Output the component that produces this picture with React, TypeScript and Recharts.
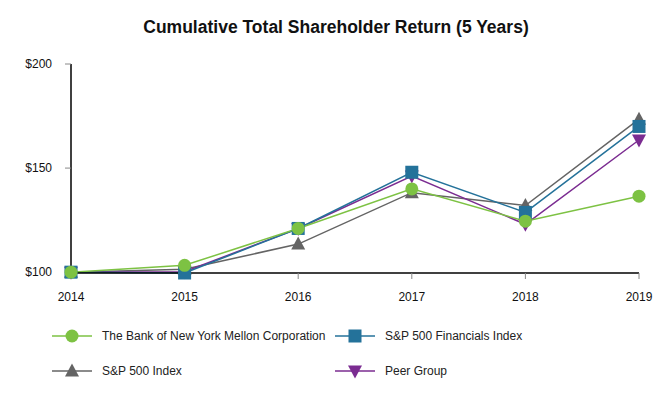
import React from 'react';
import { CartesianGrid, Line, LineChart, XAxis, YAxis } from 'recharts';

const years = [2014, 2015, 2016, 2017, 2018, 2019];
const bnyMellon = [100, 103.3, 121, 140, 124.5, 136.5];
const spFinancials = [100, 99.6, 121, 148, 128.7, 170];
const sp500 = [100, 101.4, 113.5, 138.2, 132, 173.5];
const peerGroup = [100, 100.2, 121, 146.2, 123, 163.5];
const yTicks = [100, 150, 200];

const data = years.map((year, i) => ({
  year,
  bny: bnyMellon[i],
  fin: spFinancials[i],
  sp: sp500[i],
  peer: peerGroup[i]
}));

const FONT = 'Arial, "Liberation Sans", Helvetica, sans-serif';

type Shape = 'circle' | 'square' | 'triangle' | 'down';

function Marker({ cx, cy, shape, color }: { cx: number; cy: number; shape: Shape; color: string }) {
  if (cx == null || cy == null) return null;
  if (shape === 'circle') return <circle cx={cx} cy={cy} r={6.5} fill={color} />;
  if (shape === 'square') return <rect x={cx - 6.5} y={cy - 6.5} width={13} height={13} fill={color} />;
  if (shape === 'triangle') return <polygon points={`${cx},${cy - 7.5} ${cx + 7},${cy + 5.5} ${cx - 7},${cy + 5.5}`} fill={color} />;
  return <polygon points={`${cx},${cy + 7.5} ${cx + 7},${cy - 5.5} ${cx - 7},${cy - 5.5}`} fill={color} />;
}

const series: { key: string; name: string; color: string; shape: Shape }[] = [
  { key: 'sp', name: 'S&P 500 Index', color: '#646464', shape: 'triangle' },
  { key: 'peer', name: 'Peer Group', color: '#7b2c91', shape: 'down' },
  { key: 'fin', name: 'S&P 500 Financials Index', color: '#24729a', shape: 'square' },
  { key: 'bny', name: 'The Bank of New York Mellon Corporation', color: '#7dc243', shape: 'circle' }
];

const legendOrder = ['bny', 'fin', 'sp', 'peer'];

function LegendItem({ s, x, y }: { s: (typeof series)[number]; x: number; y: number }) {
  return (
    <div style={{ position: 'absolute', left: x, top: y - 10, height: 20, display: 'flex', alignItems: 'center' }}>
      <svg width={40} height={20} style={{ display: 'block' }}>
        <line x1={0} y1={10} x2={40} y2={10} stroke={s.color} strokeWidth={1.5} />
        <Marker cx={20} cy={10} shape={s.shape} color={s.color} />
      </svg>
      <span style={{ marginLeft: 10, fontSize: 12, color: '#222', fontFamily: FONT, whiteSpace: 'nowrap' }}>{s.name}</span>
    </div>
  );
}

export default function App() {
  const byKey = (k: string) => series.find((s) => s.key === k)!;
  return (
    <div style={{ position: 'absolute', left: 0, top: 0, width: 672, height: 408, background: '#fff' }}>
      <div style={{ position: 'absolute', top: 17, left: 0, width: 672, textAlign: 'center', fontFamily: FONT, fontWeight: 'bold', fontSize: 17.5, color: '#111' }}>
        Cumulative Total Shareholder Return (5 Years)
      </div>
      <LineChart width={672} height={408} data={data} margin={{ top: 64, right: 33, left: 11, bottom: 105 }}>
        <CartesianGrid horizontal={false} vertical={false} />
        <XAxis
          dataKey="year"
          type="number"
          domain={[2014, 2019]}
          ticks={years}
          height={30}
          tick={{ fill: '#111', fontSize: 12, fontFamily: FONT }}
          tickSize={6}
          tickMargin={13}
          axisLine={{ stroke: '#000', strokeWidth: 1.5 }}
          tickLine={{ stroke: '#888' }}
        />
        <YAxis
          domain={[100, 200]}
          ticks={yTicks}
          width={60}
          tickFormatter={(v) => `$${v}`}
          tick={{ fill: '#111', fontSize: 12, fontFamily: FONT }}
          tickSize={6}
          tickMargin={13}
          axisLine={{ stroke: '#000', strokeWidth: 1.5 }}
          tickLine={{ stroke: '#888' }}
        />
        {series.map((s) => (
          <Line
            key={s.key}
            dataKey={s.key}
            name={s.name}
            type="linear"
            stroke={s.color}
            strokeWidth={1.5}
            isAnimationActive={false}
            dot={(p: any) => <Marker key={`${s.key}-${p.index}`} cx={p.cx} cy={p.cy} shape={s.shape} color={s.color} />}
            activeDot={false}
          />
        ))}
      </LineChart>
      <LegendItem s={byKey(legendOrder[0])} x={52} y={336} />
      <LegendItem s={byKey(legendOrder[1])} x={335} y={336} />
      <LegendItem s={byKey(legendOrder[2])} x={52} y={371} />
      <LegendItem s={byKey(legendOrder[3])} x={335} y={371} />
    </div>
  );
}
